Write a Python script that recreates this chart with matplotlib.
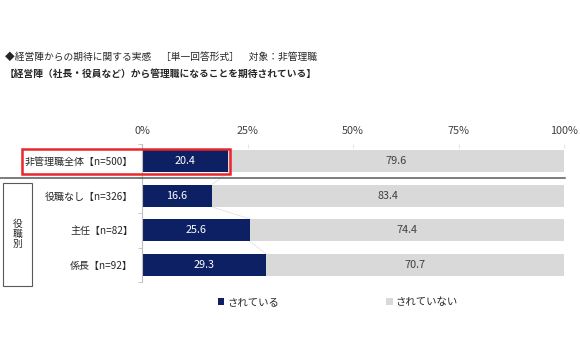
import matplotlib
matplotlib.use("Agg")
import matplotlib.pyplot as plt
from matplotlib.patches import Rectangle, Patch
from matplotlib.lines import Line2D

plt.rcParams['font.family'] = ['Noto Sans CJK JP', 'DejaVu Sans']

# Data
categories = ["非管理職全体【n=500】", "役職なし【n=326】", "主任【n=82】", "係長【n=92】"]
expected = [20.4, 16.6, 25.6, 29.3]
not_expected = [79.6, 83.4, 74.4, 70.7]
series_names = ["されている", "されていない"]
tick_vals = [0, 25, 50, 75, 100]
tick_labels = ["0%", "25%", "50%", "75%", "100%"]

navy = "#0D2063"
grey = "#D9D9D9"
text_col = "#404040"

W, H = 580, 360
fig = plt.figure(figsize=(W / 100, H / 100), dpi=100)

# axes placed in pixel terms: x 142..564, y 144..282 (from top)
ax = fig.add_axes([142 / W, 1 - 282 / H, (564 - 142) / W, 138 / H])

ypos = list(range(len(categories)))
h = 0.65
ax.barh(ypos, expected, height=h, color=navy)
ax.barh(ypos, not_expected, left=expected, height=h, color=grey)

# data labels
for y, a, b in zip(ypos, expected, not_expected):
    ax.text(a / 2, y, f"{a:.1f}", ha="center", va="center", color="white", fontsize=7.8)
    ax.text(a + b / 2, y, f"{b:.1f}", ha="center", va="center", color=text_col, fontsize=7.8)

# series lines between the navy segments
for i in range(len(ypos) - 1):
    ax.plot([expected[i], expected[i + 1]], [ypos[i] + h / 2, ypos[i + 1] - h / 2],
            color="#E3E3E3", lw=0.6, zorder=0)

ax.set_xlim(0, 100)
ax.set_ylim(len(categories) - 0.5, -0.5)

ax.xaxis.tick_top()
ax.set_xticks(tick_vals)
ax.set_xticklabels(tick_labels, fontsize=7.8, color=text_col)
ax.tick_params(axis="x", direction="in", length=3, color="#E6E6E6", pad=6)

ax.set_yticks(ypos)
ax.set_yticklabels(categories, fontsize=7.2, color="#262626")
ax.tick_params(axis="y", length=0, pad=6.5)
ax.set_yticks([i - 0.5 for i in range(len(categories) + 1)], minor=True)
ax.tick_params(axis="y", which="minor", length=3, color="#BFBFBF")

for s in ["top", "right", "bottom"]:
    ax.spines[s].set_visible(False)
ax.spines["left"].set_color("#BFBFBF")
ax.spines["left"].set_linewidth(0.8)

# titles
fig.text(5 / W, 1 - 57 / H, "◆経営陣からの期待に関する実感　［単一回答形式］　対象：非管理職",
         fontsize=7, va="center", ha="left", color="#262626")
fig.text(5 / W, 1 - 74 / H, "【経営陣（社長・役員など）から管理職になることを期待されている】",
         fontsize=7, va="center", ha="left", color="#262626", fontweight="bold")

# red highlight box around total row
fig.add_artist(Rectangle((22 / W, 1 - 174 / H), (230 - 22) / W, 25 / H,
                         transform=fig.transFigure, fill=False, edgecolor="#E8262B", lw=1.8))

# separator line
fig.add_artist(Line2D([0, 565 / W], [1 - 178 / H, 1 - 178 / H],
                      transform=fig.transFigure, color="#595959", lw=1.1))

# group box
fig.add_artist(Rectangle((3 / W, 1 - 286 / H), 29 / W, 103 / H,
                         transform=fig.transFigure, fill=False, edgecolor="#595959", lw=0.8))
fig.text(17.5 / W, 1 - 234 / H, "役\n職\n別", fontsize=7, ha="center", va="center",
         color="#262626", linespacing=1.05)

# legend
handles = [Patch(facecolor=navy), Patch(facecolor=grey)]
fig.legend(handles, series_names, loc="center", ncol=2, frameon=False,
           bbox_to_anchor=(338 / W, 1 - 302 / H), fontsize=7.5,
           handlelength=0.6, handleheight=0.6, handletextpad=0.3, columnspacing=10.3,
           labelcolor="#262626")

fig.savefig("out.png", dpi=100)
